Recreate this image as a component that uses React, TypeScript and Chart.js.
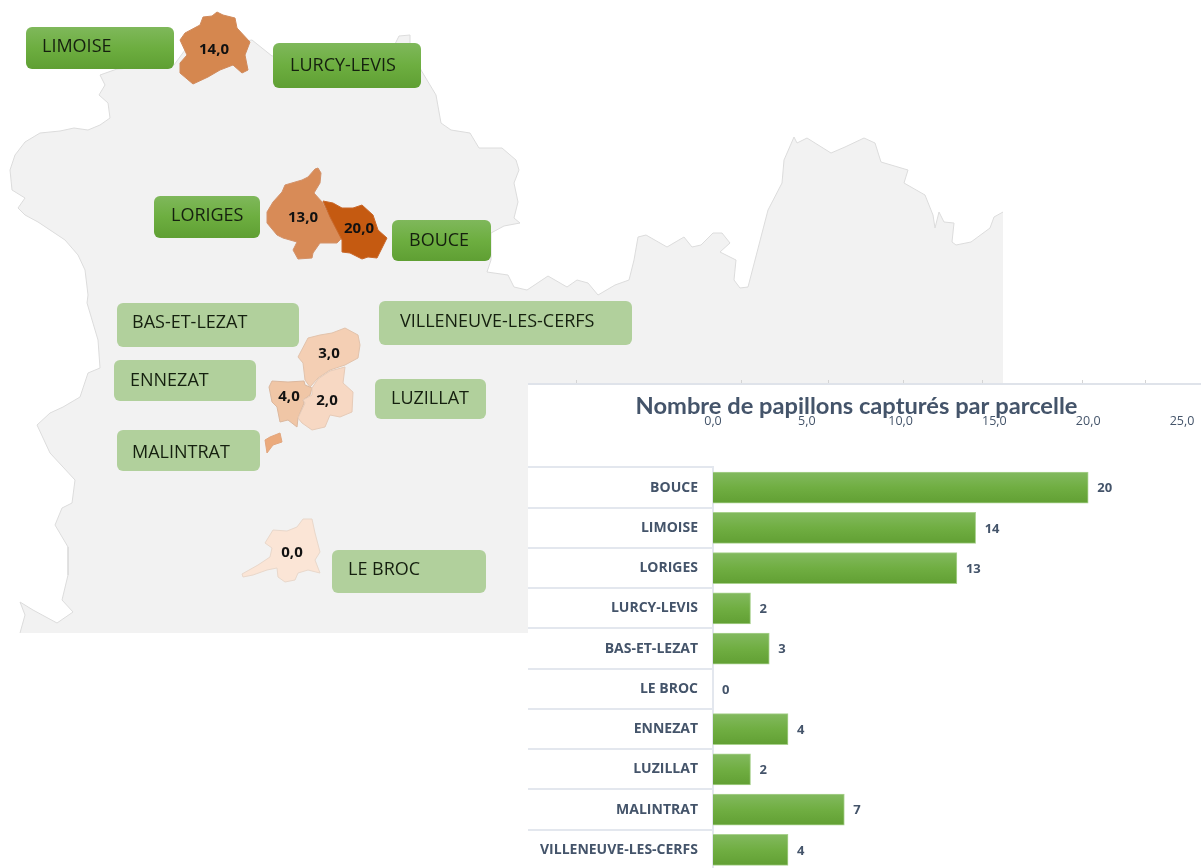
import React, { useEffect, useRef } from "react";
import { Chart, registerables } from "chart.js";

Chart.register(...registerables);

type P = [number, number];

// ---------- bar chart data ----------
const parcels = ["BOUCE", "LIMOISE", "LORIGES", "LURCY-LEVIS", "BAS-ET-LEZAT", "LE BROC", "ENNEZAT", "LUZILLAT", "MALINTRAT", "VILLENEUVE-LES-CERFS"];
const captures = [20, 14, 13, 2, 3, 0, 4, 2, 7, 4];
const chartTitle = "Nombre de papillons capturés par parcelle";

// ---------- map data (outline points) ----------
const outlineWest: P[] = [
  [117, 69], [100, 75], [105, 85], [99, 95], [108, 103], [110, 118], [100, 125], [88, 130], [74, 128], [60, 131], [40, 133], [25, 142], [15, 155], [10, 170], [12, 190], [25, 198], [18, 208], [25, 215], [38, 222], [50, 230], [65, 240], [78, 255], [85, 270], [88, 295],
  [87, 303], [98, 340], [100, 368], [88, 373], [80, 397], [63, 407], [50, 413], [37, 425], [50, 453], [75, 480], [72, 503], [62, 508], [55, 525], [68, 547], [68, 575], [62, 600], [73, 612], [57, 623], [33, 610], [20, 602], [25, 615], [20, 633],
];
const outlineCorners: P[] = [[528, 633], [528, 383], [1003, 383]];
const outlineEast: P[] = [
  [1003, 212], [994, 217], [990, 228], [971, 242], [956, 245], [952, 242], [954, 223], [944, 222], [939, 212], [935, 228], [933, 215], [925, 195], [904, 183], [908, 170], [881, 162], [875, 143], [864, 138], [845, 147], [831, 153], [807, 138], [797, 143], [794, 137], [784, 160], [782, 183], [768, 210], [748, 287], [740, 288], [734, 280], [736, 260], [720, 252], [730, 243], [722, 233], [713, 233], [701, 245], [692, 247], [684, 237], [667, 247], [646, 235], [638, 237], [634, 260], [629, 280], [615, 285], [598, 295], [588, 283], [577, 280], [567, 287], [548, 276], [527, 290], [514, 287], [508, 275], [487, 272], [491, 260], [491, 233], [504, 226], [520, 223], [514, 218], [518, 202], [514, 183], [519, 170], [516, 160], [502, 148], [479, 148], [470, 133], [451, 130], [441, 123], [436, 95], [421, 70], [411, 44], [410, 35], [399, 36], [395, 44], [272, 56], [252, 40], [185, 50], [174, 65],
];
const limoiseShape: P[] = [[217, 12], [223, 15], [235, 18], [237, 28], [250, 42], [245, 55], [248, 70], [242, 73], [233, 65], [220, 70], [208, 77], [193, 84], [180, 73], [180, 63], [187, 55], [180, 40], [185, 33], [200, 25], [203, 17], [212, 16]];
const lorigesShape: P[] = [[318, 168], [321, 173], [320, 183], [314, 193], [323, 203], [330, 217], [342, 238], [337, 243], [320, 243], [313, 253], [312, 258], [298, 259], [293, 250], [297, 242], [283, 238], [277, 235], [267, 223], [267, 212], [273, 202], [282, 192], [285, 185], [302, 180], [308, 177], [315, 169]];
const bouceShape: P[] = [[323, 201], [333, 203], [342, 208], [353, 208], [362, 205], [373, 215], [378, 230], [387, 238], [382, 248], [377, 258], [368, 257], [362, 259], [350, 253], [342, 252], [342, 240], [330, 217]];
const basShape: P[] = [[345, 328], [358, 335], [360, 345], [358, 358], [345, 365], [330, 370], [318, 378], [310, 387], [305, 380], [303, 363], [298, 357], [308, 338], [320, 335], [332, 333]];
const luzillatShape: P[] = [[345, 367], [343, 383], [353, 392], [352, 412], [340, 417], [330, 415], [325, 427], [312, 430], [302, 423], [298, 418], [305, 403], [303, 400], [312, 395], [312, 388], [318, 379], [330, 371]];
const ennezatShape: P[] = [[272, 381], [288, 382], [304, 381], [305, 385], [312, 388], [310, 395], [303, 400], [304, 403], [298, 418], [297, 427], [288, 420], [280, 422], [277, 407], [272, 402], [269, 387]];
const malintratShape: P[] = [[280, 433], [282, 442], [273, 445], [267, 453], [265, 440], [270, 437]];
const lebrocShape: P[] = [[303, 519], [312, 519], [315, 533], [320, 552], [315, 560], [320, 573], [308, 570], [298, 573], [295, 580], [285, 582], [278, 577], [277, 568], [267, 570], [253, 575], [243, 577], [242, 574], [258, 565], [270, 557], [272, 548], [265, 543], [273, 530], [287, 531], [297, 527]];

const mapValueText = ["14,0", "13,0", "20,0", "3,0", "2,0", "4,0", "0,0"];
const mapValueX = [214, 303, 359, 329, 327, 289, 292];
const mapValueY = [50, 218, 229, 354, 401, 397, 553];

const boxNames = ["LIMOISE", "LURCY-LEVIS", "LORIGES", "BOUCE", "BAS-ET-LEZAT", "VILLENEUVE-LES-CERFS", "ENNEZAT", "LUZILLAT", "MALINTRAT", "LE BROC"];
const boxLeft = [26, 273, 154, 392, 117, 379, 114, 375, 117, 332];
const boxRight = [174, 421, 260, 491, 299, 632, 256, 486, 260, 486];
const boxTop = [27, 43, 196, 220, 303, 301, 360, 379, 430, 550];
const boxBottom = [69, 88, 238, 261, 347, 345, 401, 419, 471, 593];
const boxTextX = [42, 290, 171, 409, 132, 400, 130, 391, 132, 348];
const boxTextY = [47, 66, 216, 241, 323, 322, 381, 399, 453, 570];
const boxStrong = [true, true, true, true, false, false, false, false, false, false];
const edgeTickX = [576, 741, 828, 903, 982, 1082, 1145];

const close = (pts: P[]) => [...pts, pts[0]].map(([x, y]) => ({ x, y }));
const open = (pts: P[]) => pts.map(([x, y]) => ({ x, y }));

const mapFill = "#f2f2f2";
const mapSets = [
  { data: close([...outlineWest, ...outlineCorners, ...outlineEast]), fill: mapFill, line: mapFill, width: 0, order: 11, filled: true },
  { data: open([...outlineEast, ...outlineWest]), fill: mapFill, line: "#dcdcdc", width: 1, order: 10, filled: false },
  { data: close(limoiseShape), fill: "#d5874f", line: "#d08a5c", width: 1, order: 5, filled: true },
  { data: close(lorigesShape), fill: "#d88b57", line: "#d3926a", width: 1, order: 4, filled: true },
  { data: close(bouceShape), fill: "#c55a11", line: "#c9682a", width: 1, order: 3, filled: true },
  { data: close(ennezatShape), fill: "#f0c6a6", line: "#dcb89e", width: 1, order: 4, filled: true },
  { data: close(basShape), fill: "#f4cfb4", line: "#e2c3ac", width: 1, order: 3, filled: true },
  { data: close(luzillatShape), fill: "#f7d8c3", line: "#e6cbb8", width: 1, order: 2, filled: true },
  { data: close(malintratShape), fill: "#ebaa7c", line: "#e2a67e", width: 1, order: 2, filled: true },
  { data: close(lebrocShape), fill: "#fbe5d6", line: "#e9d8cb", width: 1, order: 2, filled: true },
];

const mapLabelPlugin = {
  id: "mapLabels",
  afterDatasetsDraw(chart: any) {
    const { ctx, scales } = chart;
    const sx = (v: number) => scales.x.getPixelForValue(v);
    const sy = (v: number) => scales.y.getPixelForValue(v);
    ctx.save();
    ctx.strokeStyle = "#d4d4d4";
    ctx.lineWidth = 1;
    edgeTickX.forEach((x) => {
      ctx.beginPath();
      ctx.moveTo(sx(x) + 0.5, sy(380));
      ctx.lineTo(sx(x) + 0.5, sy(384));
      ctx.stroke();
    });
    ctx.textBaseline = "middle";
    ctx.textAlign = "center";
    ctx.fillStyle = "#111111";
    ctx.font = "bold 15px 'Open Sans'";
    mapValueText.forEach((t, i) => ctx.fillText(t, sx(mapValueX[i]), sy(mapValueY[i])));
    ctx.textAlign = "left";
    boxNames.forEach((name, i) => {
      const l = sx(boxLeft[i]), r = sx(boxRight[i]), t = sy(boxTop[i]), b = sy(boxBottom[i]);
      ctx.beginPath();
      ctx.roundRect(l, t, r - l, b - t, 6);
      if (boxStrong[i]) {
        const g = ctx.createLinearGradient(0, t, 0, b);
        g.addColorStop(0, "#7fb85b");
        g.addColorStop(0.5, "#6dae40");
        g.addColorStop(1, "#5f9f33");
        ctx.fillStyle = g;
      } else {
        ctx.fillStyle = "#b1d09c";
      }
      ctx.fill();
      ctx.fillStyle = "#15200f";
      ctx.font = "18px 'Open Sans'";
      ctx.fillText(name, sx(boxTextX[i]), sy(boxTextY[i]));
    });
    ctx.restore();
  },
};

const barValuePlugin = {
  id: "barValues",
  afterDatasetsDraw(chart: any) {
    const { ctx } = chart;
    const meta = chart.getDatasetMeta(0);
    ctx.save();
    ctx.fillStyle = "#44546a";
    ctx.font = "bold 13px 'Open Sans'";
    ctx.textBaseline = "middle";
    ctx.textAlign = "left";
    meta.data.forEach((el: any, i: number) => {
      ctx.fillText(String(captures[i]), el.x + 9, el.y + 1);
    });
    ctx.restore();
  },
};

export default function App() {
  const mapRef = useRef<HTMLCanvasElement>(null);
  const barRef = useRef<HTMLCanvasElement>(null);

  useEffect(() => {
    const mapChart = new Chart(mapRef.current!, {
      type: "scatter",
      plugins: [mapLabelPlugin],
      data: {
        datasets: mapSets.map((s) => ({
          data: s.data,
          showLine: true,
          fill: s.filled ? "shape" : false,
          backgroundColor: s.fill,
          borderColor: s.line,
          borderWidth: s.width,
          pointRadius: 0,
          tension: 0,
          order: s.order,
        })),
      },
      options: {
        responsive: false,
        animation: false,
        layout: { padding: 0 },
        plugins: { legend: { display: false }, tooltip: { enabled: false }, title: { display: false } },
        scales: {
          x: { type: "linear", min: 0, max: 1201, display: false },
          y: { type: "linear", min: 0, max: 868, reverse: true, display: false },
        },
      },
    } as any);

    const barChart = new Chart(barRef.current!, {
      type: "bar",
      plugins: [barValuePlugin],
      data: {
        labels: parcels,
        datasets: [
          {
            data: captures,
            barThickness: 31,
            borderWidth: 1,
            borderColor: "#a9d18e",
            backgroundColor: (c: any) => {
              const ch = c.chart;
              const ys = ch.scales?.y;
              const mid = ys && typeof c.dataIndex === "number" ? ys.getPixelForValue(c.dataIndex) : NaN;
              if (!Number.isFinite(mid)) return "#70ad47";
              const g = ch.ctx.createLinearGradient(0, mid - 15, 0, mid + 15);
              g.addColorStop(0, "#82b95e");
              g.addColorStop(0.5, "#70ae42");
              g.addColorStop(1, "#62a034");
              return g;
            },
          },
        ],
      },
      options: {
        indexAxis: "y",
        responsive: false,
        animation: false,
        layout: { padding: { top: 8, right: 0, left: 0, bottom: 0 } },
        plugins: {
          legend: { display: false },
          tooltip: { enabled: false },
          title: {
            display: true,
            text: chartTitle,
            color: "#44546a",
            font: { family: "Lato", size: 23.7, weight: "bold" },
            padding: { top: 0, bottom: -13 },
          },
        },
        scales: {
          x: {
            type: "linear",
            position: "top",
            min: 0,
            max: 25,
            afterFit: (s: any) => {
              s.height = 60;
              s.paddingRight = 19;
              s.paddingLeft = 0;
            },
            grid: { display: false, drawTicks: false },
            border: { display: false },
            ticks: {
              stepSize: 5,
              padding: 39,
              color: "#44546a",
              font: { family: "Open Sans", size: 12.5 },
              maxRotation: 0,
              callback: (v: any) => Number(v).toFixed(1).replace(".", ","),
            },
          },
          y: {
            type: "category",
            afterFit: (s: any) => { s.width = 201; },
            grid: { drawOnChartArea: false, drawTicks: true, tickLength: 185, color: "#e3e7ee", lineWidth: 2 },
            border: { display: true, color: "#e3e7ee", width: 2 },
            ticks: {
              padding: -170,
              color: "#44546a",
              autoSkip: false,
              font: { family: "Open Sans", size: 14, weight: "bold" },
            },
          },
        },
      },
    } as any);

    return () => {
      mapChart.destroy();
      barChart.destroy();
    };
  }, []);

  return (
    <div style={{ position: "fixed", left: 0, top: 0, width: 1201, height: 868, overflow: "hidden", background: "#ffffff" }}>
      <canvas ref={mapRef} width={1201} height={868} style={{ position: "absolute", left: 0, top: 0, filter: "blur(0.5px)" }} />
      <div style={{ position: "absolute", left: 528, top: 383, width: 673, height: 485, overflow: "hidden", background: "#ffffff", borderTop: "2px solid #dfe3ea", boxSizing: "border-box" }}>
        <canvas ref={barRef} width={689} height={486} style={{ position: "absolute", left: -16, top: -1, filter: "blur(0.5px)" }} />
      </div>
    </div>
  );
}
